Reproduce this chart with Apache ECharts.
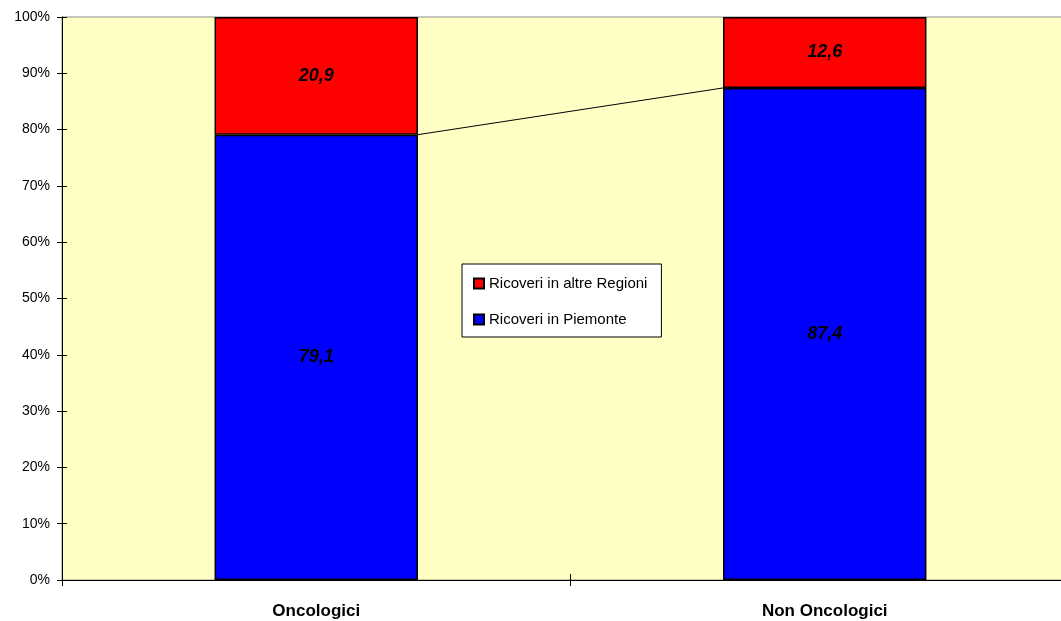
<!DOCTYPE html>
<html><head><meta charset="utf-8">
<script src="https://cdn.jsdelivr.net/npm/echarts@6/dist/echarts.min.js"></script>
<style>html,body{margin:0;padding:0;background:#fff;overflow:hidden;width:1061px;height:621px}#c{width:1079px;height:621px}</style>
</head><body><div id="c"></div>
<script>
var categories = ['Oncologici', 'Non Oncologici'];
var piemonte = [79.1, 87.4];
var altreRegioni = [20.9, 12.6];
var yTicks = ['0%','10%','20%','30%','40%','50%','60%','70%','80%','90%','100%'];

var FONT = 'Arial, "Liberation Sans", sans-serif';
var chart = echarts.init(document.getElementById('c'));
var fmt = function (p) { return String(p.value).replace('.', ','); };
var lbl = {show: true, position: 'inside', color: '#000', fontFamily: FONT, fontSize: 18, fontWeight: 'bold', fontStyle: 'italic', formatter: fmt};
chart.setOption({
  animation: false,
  grid: {left: 62, right: 0, top: 17, bottom: 41, show: true, backgroundColor: '#FFFFC4', borderColor: '#8c8c8c', borderWidth: 1},
  legend: {
    orient: 'vertical', left: 462, top: 264,
    data: ['Ricoveri in altre Regioni', 'Ricoveri in Piemonte'],
    backgroundColor: '#fff', borderColor: '#000', borderWidth: 1,
    padding: [12, 14, 10, 11], itemGap: 21, itemWidth: 10, itemHeight: 10,
    icon: 'rect',
    textStyle: {fontFamily: FONT, fontSize: 15, color: '#000'}
  },
  xAxis: [{
    type: 'category', data: categories,
    axisLine: {lineStyle: {color: '#000'}},
    axisTick: {show: true, length: 6, lineStyle: {color: '#000'}},
    axisLabel: {color: '#000', fontFamily: FONT, fontSize: 17, fontWeight: 'bold', margin: 23}
  }, {
    type: 'category', data: categories, position: 'bottom',
    axisLine: {show: false},
    axisTick: {show: true, inside: true, length: 6, lineStyle: {color: '#000'}},
    axisLabel: {show: false}
  }],
  yAxis: [{
    type: 'value', min: 0, max: 100, interval: 10,
    axisLine: {show: true, lineStyle: {color: '#000'}},
    axisTick: {show: true, length: 5, lineStyle: {color: '#000'}},
    splitLine: {show: false},
    axisLabel: {color: '#000', fontFamily: FONT, fontSize: 14, margin: 12,
      formatter: function (v) { return yTicks[Math.round(v / 10)]; }}
  }, {
    type: 'value', min: 0, max: 100, interval: 10, position: 'left',
    axisLine: {show: false},
    axisTick: {show: true, inside: true, length: 5, lineStyle: {color: '#000'}},
    splitLine: {show: false},
    axisLabel: {show: false}
  }],
  series: [
    {name: 'Ricoveri in Piemonte', type: 'bar', stack: 's', data: piemonte, barWidth: '40%',
      itemStyle: {color: '#0000FF', borderColor: '#000', borderWidth: 1.5}, label: lbl},
    {name: 'Ricoveri in altre Regioni', type: 'bar', stack: 's', data: altreRegioni, barWidth: '40%',
      itemStyle: {color: '#FF0000', borderColor: '#000', borderWidth: 1.5}, label: lbl},
    {type: 'custom', name: 'connector', silent: true, z: 5,
      data: [[0, piemonte[0], 1, piemonte[1]]],
      encode: {x: [0, 2], y: [1, 3]},
      renderItem: function (params, api) {
        var p1 = api.coord([api.value(0), api.value(1)]);
        var p2 = api.coord([api.value(2), api.value(3)]);
        var bw = api.size([1, 0])[0] * 0.4;
        return {type: 'line', shape: {x1: p1[0] + bw / 2, y1: p1[1], x2: p2[0] - bw / 2, y2: p2[1]},
          style: {stroke: '#000', lineWidth: 1}};
      }}
  ]
});
</script></body></html>
